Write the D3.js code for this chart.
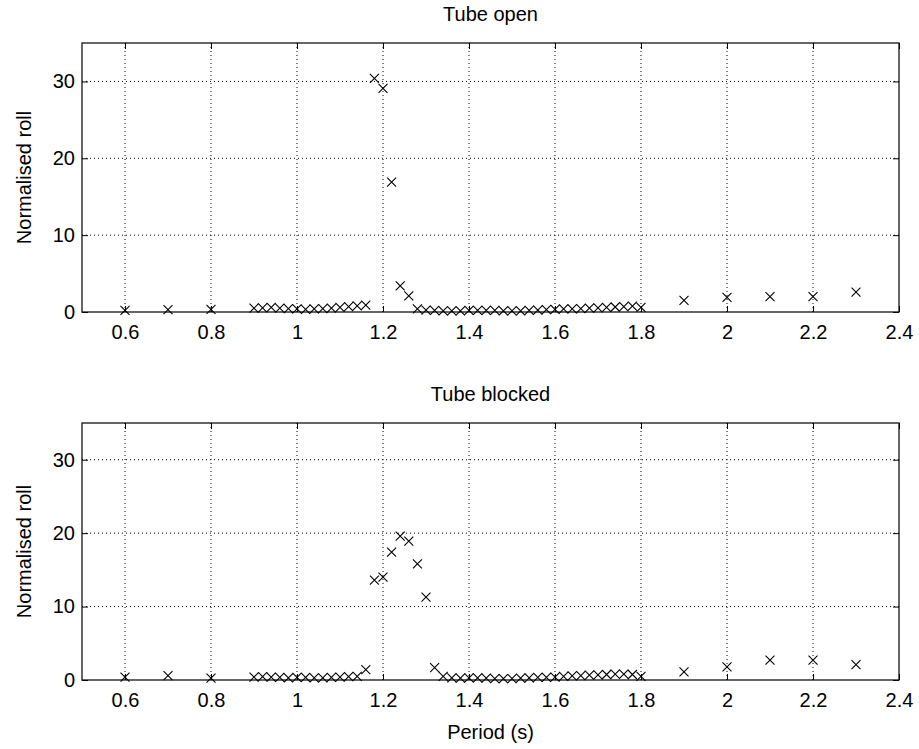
<!DOCTYPE html>
<html>
<head>
<meta charset="utf-8">
<script src="https://cdn.jsdelivr.net/npm/d3@7"></script>
<style>
	body { margin: 0; background: #fff; }
	svg text { font-family: "Liberation Sans", Arial, sans-serif; fill: #000; }
</style>
</head>
<body>
<svg id="chart" width="919" height="749"></svg>
<script>
// wave period (s), shared by both runs
var period = [0.6, 0.7, 0.8,
	0.9, 0.92, 0.94, 0.96, 0.98,
	1.0, 1.02, 1.04, 1.06, 1.08, 1.1, 1.12, 1.14, 1.16,
	1.18, 1.2, 1.22, 1.24, 1.26,
	1.28, 1.3, 1.32, 1.34, 1.36, 1.38, 1.4, 1.42, 1.44, 1.46, 1.48, 1.5, 1.52, 1.54,
	1.56, 1.58, 1.6, 1.62, 1.64, 1.66, 1.68, 1.7, 1.72, 1.74, 1.76, 1.78, 1.8,
	1.9, 2.0, 2.1, 2.2, 2.3];

var rollOpen = [0.2, 0.3, 0.35,
	0.5, 0.55, 0.6, 0.5, 0.45,
	0.4, 0.35, 0.4, 0.45, 0.5, 0.6, 0.7, 0.8, 0.9,
	30.4, 29.1, 16.9, 3.4, 2.1,
	0.4, 0.25, 0.2, 0.15, 0.15, 0.15, 0.2, 0.2, 0.2, 0.2, 0.15, 0.15, 0.15, 0.2,
	0.25, 0.3, 0.35, 0.4, 0.4, 0.45, 0.5, 0.55, 0.6, 0.65, 0.7, 0.75, 0.6,
	1.5, 1.9, 2.0, 2.0, 2.6];

var rollBlocked = [0.4, 0.6, 0.25,
	0.4, 0.45, 0.4, 0.35, 0.3,
	0.35, 0.35, 0.3, 0.3, 0.35, 0.4, 0.45, 0.5, 1.4,
	13.6, 14.0, 17.4, 19.6, 18.9,
	15.8, 11.3, 1.7, 0.5, 0.3, 0.25, 0.3, 0.3, 0.25, 0.2, 0.2, 0.2, 0.25, 0.3,
	0.35, 0.35, 0.4, 0.5, 0.55, 0.6, 0.65, 0.7, 0.75, 0.8, 0.8, 0.75, 0.5,
	1.1, 1.8, 2.7, 2.7, 2.1];

var xTicks = [0.6, 0.8, 1, 1.2, 1.4, 1.6, 1.8, 2, 2.2, 2.4],
	yTicks = [0, 10, 20, 30];

var panelTitles = ["Tube open", "Tube blocked"],
	yLabel = "Normalised roll",
	xLabel = "Period (s)";

var left = 82, right = 899,
	markSize = 4.5,
	tickLen = 6,
	fontSize = "20px";

var svg = d3.select("#chart");

var x = d3.scaleLinear().domain([0.5, 2.4]).range([left, right]);

function drawPanel(top, bottom, title, values, showXLabel){
	var y = d3.scaleLinear().domain([0, 35]).range([bottom, top]);
	var g = svg.append("g").attr("class", "panel");

	// dotted grid
	g.selectAll(".vgrid").data(xTicks.filter(function(t){ return t < 2.4; })).enter()
		.append("line")
		.attr("class", "vgrid")
		.attr("x1", function(d){ return x(d); })
		.attr("x2", function(d){ return x(d); })
		.attr("y1", top)
		.attr("y2", bottom)
		.attr("stroke", "#000")
		.attr("stroke-width", 1)
		.attr("stroke-dasharray", "1,3");

	g.selectAll(".hgrid").data(yTicks.filter(function(t){ return t > 0; })).enter()
		.append("line")
		.attr("class", "hgrid")
		.attr("x1", left)
		.attr("x2", right)
		.attr("y1", function(d){ return y(d); })
		.attr("y2", function(d){ return y(d); })
		.attr("stroke", "#000")
		.attr("stroke-width", 1)
		.attr("stroke-dasharray", "1,3");

	// axes, ticks inward on all four sides
	var xb = d3.axisBottom(x).tickValues(xTicks).tickSizeInner(-tickLen).tickSizeOuter(0).tickPadding(13)
		.tickFormat(function(d){ return d3.format("")(d); });
	var xt = d3.axisTop(x).tickValues(xTicks).tickSizeInner(-tickLen).tickSizeOuter(0).tickFormat("");
	var yl = d3.axisLeft(y).tickValues(yTicks).tickSizeInner(-tickLen).tickSizeOuter(0).tickPadding(7);
	var yr = d3.axisRight(y).tickValues(yTicks).tickSizeInner(-tickLen).tickSizeOuter(0).tickFormat("");

	[[xb, "translate(0," + bottom + ")"], [xt, "translate(0," + top + ")"],
	 [yl, "translate(" + left + ",0)"], [yr, "translate(" + right + ",0)"]].forEach(function(a){
		var ax = g.append("g").attr("transform", a[1]).call(a[0]);
		ax.select(".domain").remove();
		ax.selectAll("line").attr("stroke", "#000");
		ax.selectAll("text").attr("font-size", fontSize).attr("fill", "#000")
			.style("font-family", "'Liberation Sans', Arial, sans-serif");
	});

	g.append("rect")
		.attr("x", left)
		.attr("y", top)
		.attr("width", right - left)
		.attr("height", bottom - top)
		.attr("fill", "none")
		.attr("stroke", "#000")
		.attr("stroke-width", 1.2);

	// x markers
	var pts = period.map(function(p, i){ return {p: p, v: values[i]}; });
	g.selectAll(".mark").data(pts).enter()
		.append("path")
		.attr("class", "mark")
		.attr("d", function(d){
			var cx = x(d.p), cy = y(d.v), s = markSize;
			return "M" + (cx - s) + "," + (cy - s) + "L" + (cx + s) + "," + (cy + s) +
				"M" + (cx - s) + "," + (cy + s) + "L" + (cx + s) + "," + (cy - s);
		})
		.attr("stroke", "#000")
		.attr("stroke-width", 1.1)
		.attr("fill", "none");

	g.append("text")
		.attr("x", (left + right) / 2)
		.attr("y", top - 22)
		.attr("text-anchor", "middle")
		.attr("font-size", fontSize)
		.text(title);

	g.append("text")
		.attr("transform", "translate(31," + ((top + bottom) / 2) + ") rotate(-90)")
		.attr("text-anchor", "middle")
		.attr("font-size", fontSize)
		.text(yLabel);

	if(showXLabel){
		g.append("text")
			.attr("x", (left + right) / 2)
			.attr("y", bottom + 59)
			.attr("text-anchor", "middle")
			.attr("font-size", fontSize)
			.text(xLabel);
	}
}

drawPanel(43, 312, panelTitles[0], rollOpen, false);
drawPanel(423, 680, panelTitles[1], rollBlocked, true);
</script>
</body>
</html>
